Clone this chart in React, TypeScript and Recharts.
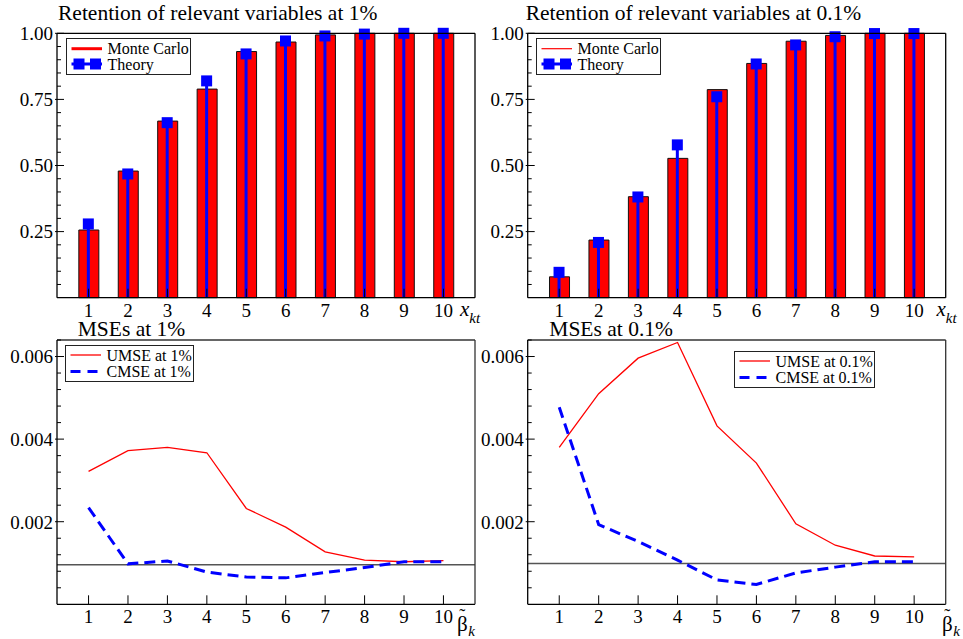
import React from "react";
import { ComposedChart, Bar, Line, XAxis, YAxis, ReferenceLine, Legend } from "recharts";

const FONT = "'Liberation Serif', 'DejaVu Serif', serif";

// x positions (k) shared by all four panels
const positions = [1, 2, 3, 4, 5, 6, 7, 8, 9, 10];

// retention at 1%
const mcRetention1 = [0.256, 0.479, 0.668, 0.789, 0.931, 0.967, 0.994, 1.0, 1.0, 1.0];
const theoryRetention1 = [0.279, 0.468, 0.662, 0.82, 0.922, 0.971, 0.99, 0.997, 1.0, 1.0];

// retention at 0.1%
const mcRetention01 = [0.079, 0.218, 0.382, 0.527, 0.787, 0.886, 0.97, 0.992, 1.0, 1.0];
const theoryRetention01 = [0.096, 0.209, 0.381, 0.578, 0.76, 0.884, 0.956, 0.987, 0.999, 0.999];

// MSEs at 1%
const umse1 = [0.00322, 0.00372, 0.0038, 0.00367, 0.00232, 0.00187, 0.00127, 0.00107, 0.00103, 0.00106];
const cmse1 = [0.00234, 0.00098, 0.00105, 0.00078, 0.00066, 0.00064, 0.00077, 0.00089, 0.00103, 0.00103];
const mseLevel1 = 0.00096;

// MSEs at 0.1%
const umse01 = [0.0038, 0.0051, 0.00596, 0.00634, 0.00432, 0.00342, 0.00195, 0.00143, 0.00117, 0.00115];
const cmse01 = [0.00477, 0.00193, 0.00152, 0.00107, 0.00059, 0.00048, 0.00076, 0.0009, 0.00103, 0.00103];
const mseLevel01 = 0.00099;

// axis ticks
const retentionTicks = [0.05, 0.1, 0.15, 0.2, 0.25, 0.3, 0.35, 0.4, 0.45, 0.5, 0.55, 0.6, 0.65, 0.7, 0.75, 0.8, 0.85, 0.9, 0.95, 1.0];
const retentionLabels = [0.25, 0.5, 0.75, 1.0];
const mseTicks = [0.0004, 0.0008, 0.0012, 0.0016, 0.002, 0.0024, 0.0028, 0.0032, 0.0036, 0.004, 0.0044, 0.0048, 0.0052, 0.0056, 0.006, 0.0064];
const mseLabels = [0.002, 0.004, 0.006];

const XTick = (props: any) => {
  const { x, y, payload } = props;
  return (
    <g>
      <line x1={x} x2={x} y1={y} y2={y - 9} stroke="#000" strokeWidth={1} />
      <text x={x} y={y + 19} textAnchor="middle" fontSize={19} fontFamily={FONT} fill="#000">
        {payload.value}
      </text>
    </g>
  );
};

const makeYTick = (labels: number[], digits: number) => (props: any) => {
  const { x, y, payload } = props;
  const major = labels.some((v) => Math.abs(v - payload.value) < 1e-9);
  return (
    <g>
      <line x1={major ? x - 2 : x} x2={x + (major ? 7 : 4)} y1={y} y2={y} stroke="#000" strokeWidth={1} />
      {major && (
        <text x={x - 4} y={y} dy="0.36em" textAnchor="end" fontSize={19} fontFamily={FONT} fill="#000">
          {payload.value.toFixed(digits)}
        </text>
      )}
    </g>
  );
};

const RetentionYTick = makeYTick(retentionLabels, 2);
const MseYTick = makeYTick(mseLabels, 3);

// thin blue stick from the base up to the theory value, with a square on top
const TheoryStick = (props: any) => {
  const { x, y, width, height } = props;
  const cx = x + width / 2;
  return (
    <g>
      <rect x={cx - 1.5} y={y} width={3} height={Math.max(height, 0)} fill="#0000ff" />
      <rect x={cx - 5.5} y={y - 5.5} width={11} height={11} fill="#0000ff" />
    </g>
  );
};

const RetentionLegend = ({ thick }: { thick: boolean }) => (
  <div style={{ width: 125, height: 37, border: "1.3px solid #222", boxSizing: "border-box", background: "#fff" }}>
    <svg width={123} height={35} style={{ display: "block" }}>
      <line x1={4.5} x2={35} y1={9.7} y2={9.7} stroke="#ff0000" strokeWidth={thick ? 3 : 1.2} />
      <line x1={4.5} x2={35} y1={25} y2={25} stroke="#0000ff" strokeWidth={3} />
      <rect x={6.5} y={19.5} width={11} height={11} fill="#0000ff" />
      <rect x={23} y={19.5} width={11} height={11} fill="#0000ff" />
      <text x={40.5} y={15} fontSize={16} fontFamily={FONT} fill="#000">Monte Carlo</text>
      <text x={40.5} y={30.5} fontSize={16} fontFamily={FONT} fill="#000">Theory</text>
    </svg>
  </div>
);

const MseLegend = ({ width, pct }: { width: number; pct: string }) => (
  <div style={{ width, height: 37, border: "1.3px solid #222", boxSizing: "border-box", background: "#fff" }}>
    <svg width={width - 2} height={35} style={{ display: "block" }}>
      <line x1={4.5} x2={35} y1={9} y2={9} stroke="#ff0000" strokeWidth={1.3} />
      <line x1={4.5} x2={35} y1={25.5} y2={25.5} stroke="#0000ff" strokeWidth={3} strokeDasharray="10 7" />
      <text x={40.5} y={15} fontSize={16} fontFamily={FONT} fill="#000">{`UMSE at ${pct}`}</text>
      <text x={40.5} y={30.5} fontSize={16} fontFamily={FONT} fill="#000">{`CMSE at ${pct}`}</text>
    </svg>
  </div>
);

type Box = { left: number; top: number; width: number; height: number; margin: { top: number; left: number; right: number; bottom: number } };

// axes take 1px each, so margins are the plot edges minus 1
const RetentionPanel = ({ box, mc, theory, thick, legendPos }: { box: Box; mc: number[]; theory: number[]; thick: boolean; legendPos: { left: number; top: number } }) => {
  const data = positions.map((k, i) => ({ k, mc: mc[i], theory: theory[i] }));
  return (
    <div style={{ position: "absolute", left: box.left, top: box.top }}>
      <ComposedChart width={box.width} height={box.height} data={data} margin={box.margin}>
        <XAxis xAxisId="b" dataKey="k" type="number" domain={[0.2, 10.8]} ticks={positions} interval={0} height={1} tickSize={0} tickMargin={0} tick={XTick} tickLine={false} axisLine={{ stroke: "#000", strokeWidth: 1.3 }} />
        <XAxis xAxisId="t" orientation="top" dataKey="k" type="number" domain={[0.2, 10.8]} height={1} tick={false} tickLine={false} axisLine={{ stroke: "#000", strokeWidth: 1.3 }} />
        <YAxis yAxisId="l" type="number" domain={[0, 1]} ticks={retentionTicks} interval={0} width={1} tickSize={0} tickMargin={0} tick={RetentionYTick} tickLine={false} axisLine={{ stroke: "#000", strokeWidth: 1.3 }} />
        <YAxis yAxisId="r" orientation="right" type="number" domain={[0, 1]} width={1} tick={false} tickLine={false} axisLine={{ stroke: "#000", strokeWidth: 1.3 }} />
        <Bar xAxisId="b" yAxisId="l" dataKey="mc" name="Monte Carlo" fill="#ff0000" stroke="#111" strokeWidth={1} barSize={20} isAnimationActive={false} />
        <Bar xAxisId="t" yAxisId="l" dataKey="theory" name="Theory" fill="#0000ff" barSize={3} shape={TheoryStick} isAnimationActive={false} />
        <Legend layout="horizontal" align="center" verticalAlign="middle" wrapperStyle={{ left: legendPos.left, top: legendPos.top, width: "auto" }} content={() => <RetentionLegend thick={thick} />} />
      </ComposedChart>
    </div>
  );
};

const MsePanel = ({ box, umse, cmse, level, pct, legendPos, legendWidth }: { box: Box; umse: number[]; cmse: number[]; level: number; pct: string; legendPos: { left: number; top: number }; legendWidth: number }) => {
  const data = positions.map((k, i) => ({ k, umse: umse[i], cmse: cmse[i] }));
  return (
    <div style={{ position: "absolute", left: box.left, top: box.top }}>
      <ComposedChart width={box.width} height={box.height} data={data} margin={box.margin}>
        <XAxis xAxisId="b" dataKey="k" type="number" domain={[0.2, 10.8]} ticks={positions} interval={0} height={1} tickSize={0} tickMargin={0} tick={XTick} tickLine={false} axisLine={{ stroke: "#000", strokeWidth: 1.3 }} />
        <XAxis xAxisId="t" orientation="top" dataKey="k" type="number" domain={[0.2, 10.8]} height={1} tick={false} tickLine={false} axisLine={{ stroke: "#666", strokeWidth: 2 }} />
        <YAxis yAxisId="l" type="number" domain={[0, 0.0064]} ticks={mseTicks} interval={0} width={1} tickSize={0} tickMargin={0} tick={MseYTick} tickLine={false} axisLine={{ stroke: "#000", strokeWidth: 1.3 }} />
        <YAxis yAxisId="r" orientation="right" type="number" domain={[0, 0.0064]} width={1} tick={false} tickLine={false} axisLine={{ stroke: "#333", strokeWidth: 1.3 }} />
        <ReferenceLine xAxisId="b" yAxisId="l" y={level} stroke="#555" strokeWidth={1.5} />
        <Line xAxisId="b" yAxisId="l" dataKey="umse" name={`UMSE at ${pct}`} stroke="#ff0000" strokeWidth={1.3} dot={false} type="linear" isAnimationActive={false} />
        <Line xAxisId="b" yAxisId="l" dataKey="cmse" name={`CMSE at ${pct}`} stroke="#0000ff" strokeWidth={3} strokeDasharray="11 6" dot={false} type="linear" isAnimationActive={false} />
        <Legend layout="horizontal" align="center" verticalAlign="middle" wrapperStyle={{ left: legendPos.left, top: legendPos.top, width: "auto" }} content={() => <MseLegend width={legendWidth} pct={pct} />} />
      </ComposedChart>
    </div>
  );
};

const topLeft: Box = { left: 0, top: 0, width: 481, height: 330, margin: { top: 32.3, left: 56, right: 5, bottom: 31.3 } };
const topRight: Box = { left: 481, top: 0, width: 482, height: 330, margin: { top: 32.3, left: 45.7, right: 16.3, bottom: 31.3 } };
const bottomLeft: Box = { left: 0, top: 330, width: 481, height: 309, margin: { top: 9, left: 56, right: 5, bottom: 33.7 } };
const bottomRight: Box = { left: 481, top: 330, width: 482, height: 309, margin: { top: 9, left: 45.7, right: 16.3, bottom: 33.7 } };

const XLabel = ({ x, y }: { x: number; y: number }) => (
  <text x={x} y={y} fontFamily={FONT} fill="#000" fontStyle="italic">
    <tspan fontSize={21}>x</tspan>
    <tspan fontSize={15} dy={7}>kt</tspan>
  </text>
);

// beta with a tilde over it and an italic k subscript, as one text
const BetaLabel = ({ x, y }: { x: number; y: number }) => (
  <text x={x} y={y} fontFamily={FONT} fill="#000">
    <tspan fontSize={21}>{"\u03b2"}</tspan>
    <tspan fontSize={18} dx={-8.5} dy={-9}>{"\u02dc"}</tspan>
    <tspan fontSize={15} dx={3} dy={14} fontStyle="italic">k</tspan>
  </text>
);

export default function App() {
  return (
    <div style={{ position: "absolute", left: 0, top: 0, width: 963, height: 639, background: "#fff", fontFamily: FONT }}>
      <RetentionPanel box={topLeft} mc={mcRetention1} theory={theoryRetention1} thick={true} legendPos={{ left: 65.7, top: 38.3 }} />
      <RetentionPanel box={topRight} mc={mcRetention01} theory={theoryRetention01} thick={false} legendPos={{ left: 536.3 - 481, top: 38.3 }} />
      <MsePanel box={bottomLeft} umse={umse1} cmse={cmse1} level={mseLevel1} pct="1%" legendPos={{ left: 65.3, top: 14.7 }} legendWidth={129} />
      <MsePanel box={bottomRight} umse={umse01} cmse={cmse01} level={mseLevel01} pct="0.1%" legendPos={{ left: 734.3 - 481, top: 21.3 }} legendWidth={141} />
      <svg width={963} height={639} style={{ position: "absolute", left: 0, top: 0, pointerEvents: "none", fontFamily: FONT }}>
        <text x={58} y={20} fontSize={21.5} fontFamily={FONT} fill="#000">Retention of relevant variables at 1%</text>
        <text x={525.7} y={20} fontSize={21.5} fontFamily={FONT} fill="#000">Retention of relevant variables at 0.1%</text>
        <text x={77.7} y={335.5} fontSize={21.5} fontFamily={FONT} fill="#000">MSEs at 1%</text>
        <text x={549.3} y={335.5} fontSize={21.5} fontFamily={FONT} fill="#000">MSEs at 0.1%</text>
        <XLabel x={460} y={315.5} />
        <XLabel x={936.5} y={315.5} />
        <BetaLabel x={457} y={631} />
        <BetaLabel x={942} y={631} />
      </svg>
    </div>
  );
}
